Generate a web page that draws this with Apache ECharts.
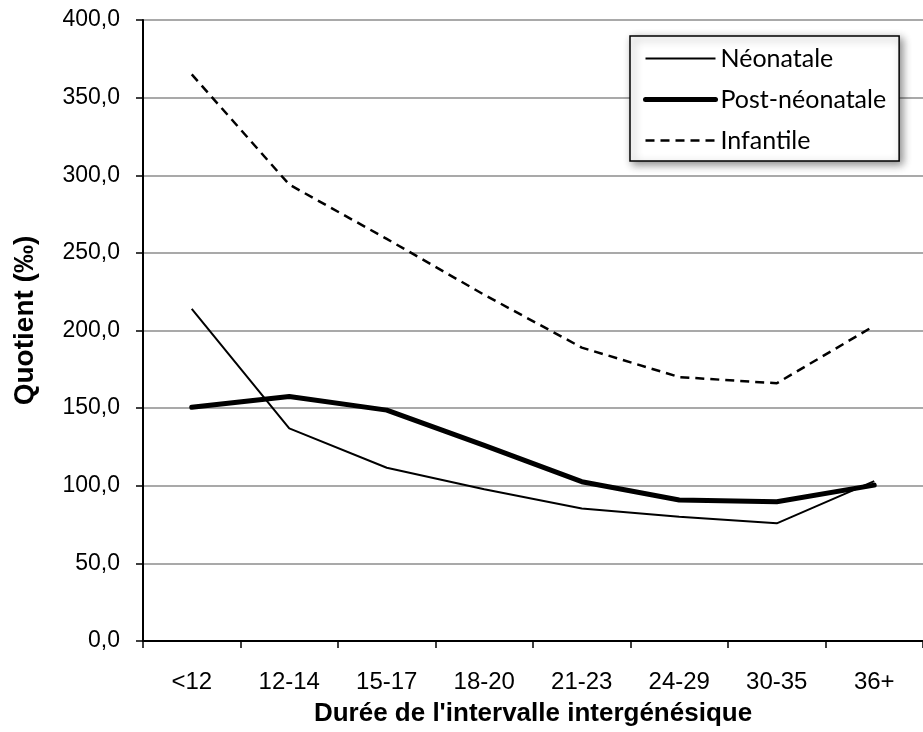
<!DOCTYPE html>
<html>
<head>
<meta charset="utf-8">
<script src="https://cdn.jsdelivr.net/npm/echarts@6/dist/echarts.min.js"></script>
<style>
html,body{margin:0;padding:0;background:#fff;}
#chart{width:923px;height:732px;}
</style>
</head>
<body>
<div id="chart"></div>
<script>
const categories = ['<12', '12-14', '15-17', '18-20', '21-23', '24-29', '30-35', '36+'];
const neonatale = [214, 137, 111.6, 97.7, 85.4, 80, 75.8, 103];
const postNeonatale = [150.5, 157.5, 148.7, 126, 102.6, 90.8, 89.7, 100.4];
const infantile = [365, 294, 259, 223, 189, 170, 166, 203];
const seriesNames = ['Néonatale', 'Post-néonatale', 'Infantile'];
const yMin = 0, yMax = 400, yStep = 50;
const xTitle = "Durée de l'intervalle intergénésique";
const yTitle = 'Quotient (‰)';

const styles = {
  'Néonatale': {color: '#000', width: 2, type: 'solid'},
  'Post-néonatale': {color: '#000', width: 5, type: 'solid', cap: 'round'},
  'Infantile': {color: '#000', width: 2.5, type: [9, 6]}
};

const chart = echarts.init(document.getElementById('chart'), null, {renderer: 'canvas'});
const option = {
  animation: false,
  backgroundColor: '#ffffff',
  grid: {left: 143, top: 20, width: 786, height: 621, containLabel: false},
  legend: {
    data: seriesNames.map(n => ({name: n, lineStyle: styles[n], itemStyle: {opacity: 0}})),
    orient: 'vertical',
    left: 630,
    top: 36,
    itemWidth: 70,
    itemHeight: 20,
    itemGap: 16,
    padding: [10, 13, 8, 13],
    backgroundColor: '#ffffff',
    borderColor: '#000000',
    borderWidth: 1.5,
    shadowBlur: 8,
    shadowColor: 'rgba(0,0,0,0.45)',
    shadowOffsetX: 3,
    shadowOffsetY: 3,
    itemStyle: {color: 'rgba(0,0,0,0)', borderWidth: 0, opacity: 0},
    textStyle: {fontFamily: 'Lato', fontSize: 25, color: '#000'}
  },
  xAxis: {
    type: 'category',
    data: categories,
    boundaryGap: true,
    axisLine: {show: true, lineStyle: {color: '#000', width: 2}},
    axisTick: {show: true, length: 7, lineStyle: {color: '#000', width: 1.5}},
    axisLabel: {fontFamily: 'Liberation Sans', fontSize: 24, color: '#000', margin: 29},
    splitLine: {show: false},
    name: xTitle,
    nameLocation: 'middle',
    nameGap: 60,
    nameTextStyle: {fontFamily: 'Liberation Sans', fontSize: 26, fontWeight: 'bold', color: '#000'}
  },
  yAxis: {
    type: 'value',
    min: yMin, max: yMax, interval: yStep,
    axisLine: {show: true, lineStyle: {color: '#000', width: 2}},
    axisTick: {show: true, length: 7, lineStyle: {color: '#000', width: 1.5}},
    axisLabel: {
      fontFamily: 'Liberation Sans', fontSize: 23, color: '#000', margin: 23,
      formatter: v => v.toFixed(1).replace('.', ',')
    },
    splitLine: {show: true, lineStyle: {color: '#8c8c8c', width: 1.5}},
    name: yTitle,
    nameLocation: 'middle',
    nameGap: 104,
    nameRotate: 90,
    nameTextStyle: {fontFamily: 'Liberation Sans', fontSize: 28, fontWeight: 'bold', color: '#000', padding: [0, 0, 0, 20]}
  },
  series: [
    {name: seriesNames[2], type: 'line', data: infantile, symbol: 'none', z: 2,
     itemStyle: {color: '#000'},
     lineStyle: Object.assign({join: 'round'}, styles['Infantile'])},
    {name: seriesNames[0], type: 'line', data: neonatale, symbol: 'none', z: 3,
     itemStyle: {color: '#000'},
     lineStyle: styles['Néonatale']},
    {name: seriesNames[1], type: 'line', data: postNeonatale, symbol: 'none', z: 4,
     itemStyle: {color: '#000'},
     lineStyle: Object.assign({join: 'round'}, styles['Post-néonatale'])}
  ]
};
chart.setOption(option);
</script>
</body>
</html>
